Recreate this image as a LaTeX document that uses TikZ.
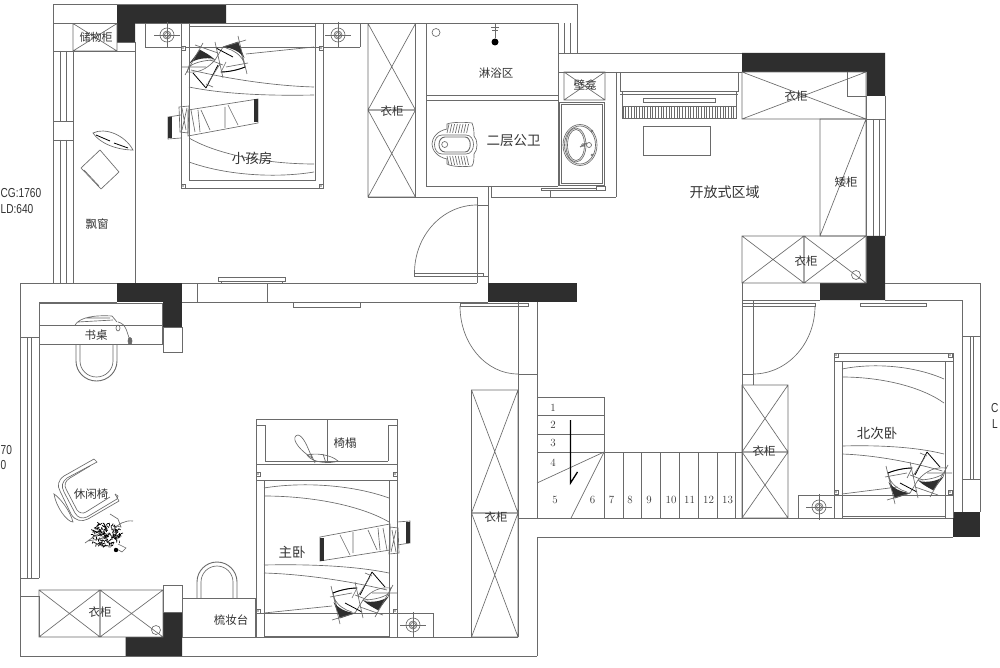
\documentclass[tikz,border=0pt]{standalone}
\usepackage{fontspec}
\setmainfont{Liberation Sans}
\newfontfamily\cjk{Noto Sans CJK SC}
\begin{document}
\definecolor{ln}{HTML}{6A6A6A}
\definecolor{blk}{HTML}{2E2E2E}
\definecolor{txt}{HTML}{333333}
\newcommand\bedCurves{%
  \draw[thn] (264,488) .. controls (300,482) and (350,484) .. (389,498);
  \draw[thn] (264,496) .. controls (310,496) and (360,505) .. (389,522);
  \draw[thn] (264,565) .. controls (310,564) and (355,566) .. (389,573);
  \draw[thn] (264,573) .. controls (300,574) and (345,580) .. (387,590);
  \draw[thn] (264,613) -- (332,606);
}
\newcommand\bedPillows{%
  \draw[thn] (333,593) .. controls (340,590) and (350,588) .. (357,588) -- (352,598) (333,593) -- (340,618) -- (355,613) -- (363,600) .. controls (372,590) and (380,587) .. (391,588) -- (388,597) -- (378,610) -- (363,600);
  \draw[black,line width=.9pt] (333,593) .. controls (340,590) and (350,588) .. (357,588);
  \fill[blk] (333.5,602) -- (340,618) -- (355,613) .. controls (345,612) and (338,608) .. (333.5,602);
  \fill[blk] (364,601) .. controls (372,603) and (382,601) .. (388,597) -- (378,610) .. controls (374,608) and (368,605) .. (364,601);
  \draw[thn] (363,600) .. controls (372,600) and (382,598) .. (388,594) (334,598) .. controls (338,606) and (345,610) .. (352,612);
  \draw[black,line width=.8pt] (360,595) -- (372,572) (372,572) -- (385,587) (345,603) -- (362,612);
  \draw[thn] (331,586) -- (340,624) (330,597) -- (352,593) (355,582) -- (363,618) (332,620) -- (355,613) (365,573) -- (372,576) (370,577) -- (358,596) (393,585) -- (375,617) (360,607) -- (383,615) (372,593) -- (397,593) (355,595) -- (368,600);
}
\newcommand\bedStrip{%
  \draw[thn] (320,537) -- (390,524) -- (390,550) -- (320,561) -- cycle;
  \fill[blk] (320,537.5) rectangle (324,560.5);
  \draw[thn] (397,522) -- (410,521) -- (410,543) -- (397,545);
  \fill[blk] (406,521.5) rectangle (410,543);
  \draw[thn] (390,527) -- (398,528) -- (399,553) -- (389,554) -- cycle (392,530) -- (396,552) (396,530) -- (391,552);
  \draw[thn] (340,535) -- (350,555) (353,532) -- (353,553) (368,530) -- (377,550) (378,528) -- (380,550) (383,528) -- (387,550);
}
\newcommand\xBox[4]{\draw[thn] (#1,#2) rectangle (#3,#4) (#1,#2) -- (#3,#4) (#1,#4) -- (#3,#2);}
\newcommand\lampMark[2]{%
  \draw[thn] (#1,#2) circle (7) (#1,#2) circle (4) (#1,#2) circle (2.5);
  \draw[thn] (#1-13,#2) -- (#1+13,#2) (#1,#2-13) -- (#1,#2+13);}
\newcommand\pegMark[2]{\draw[thn,fill=white] (#1-2,#2-2) rectangle (#1+2,#2+2);\fill[ln] (#1,#2) circle (0.9);}
\begin{tikzpicture}[x=1pt,y=-1pt,
  thn/.style={draw=ln,line width=0.65pt},
  wl/.style={draw=ln,line width=0.9pt},
  dark/.style={fill=blk,draw=none},
  lab/.style={text=txt,inner sep=0pt,font=\cjk\fontsize{11.5}{12}\selectfont},
  big/.style={text=txt,inner sep=0pt,font=\cjk\fontsize{13.5}{14}\selectfont},
  num/.style={text=txt,inner sep=0pt,font=\fontfamily{lmr}\fontsize{11}{12}\selectfont},
  dim/.style={text=txt,inner sep=0pt,font=\fontsize{13}{14}\selectfont,xscale=.78,anchor=west}]
\useasboundingbox (0,0) rectangle (1000,668);
\fill[white] (0,0) rectangle (1000,668);

% solid walls
\fill[dark] (117,4.5) -- (226,4.5) -- (226,23.5) -- (135,23.5) -- (135,42) -- (117,42) -- cycle;
\fill[dark] (117,283) rectangle (181.5,302);
\fill[dark] (163,302) rectangle (181.5,327);
\fill[dark] (488,283) rectangle (577,302);
\fill[dark] (742,53) -- (885,53) -- (885,96) -- (866.5,96) -- (866.5,72) -- (742,72) -- cycle;
\fill[dark] (866.5,236) -- (885,236) -- (885,300) -- (820,300) -- (820,283) -- (866.5,283) -- cycle;
\fill[dark] (952.5,512) rectangle (980,537);
\fill[dark] (163,612) -- (182,612) -- (182,656) -- (125.5,656) -- (125.5,637) -- (163,637) -- cycle;

% wall outlines upper part
\draw[wl] (117,4.5) -- (53.5,4.5) -- (53.5,283);
\draw[wl] (226,4.5) -- (577,4.5) -- (577,53);
\draw[wl] (53.5,23.5) -- (117,23.5) (53.5,51) -- (117,51) (117,42) -- (135,42) (117,51) -- (135,51);
\draw[wl] (135,23.5) -- (558,23.5);
\draw[wl] (135,42) -- (135,283);
\draw[thn] (60,51) -- (60,121) (66,51) -- (66,121) (60,140) -- (60,283) (66,140) -- (66,283);
\draw[wl] (73,51) -- (73,283);
\draw[thn] (53.5,121) rectangle (73,140);
\xBox{73}{23.5}{117}{51}
% window to right of shower
\draw[wl] (558,23.5) -- (558,53) (558,53) -- (742,53) (558,72) -- (742,72) (558,53) -- (558,186);
\draw[thn] (564,23.5) -- (564,53) (570,23.5) -- (570,53);
\draw[wl] (616,72) -- (616,197);
\draw[wl] (368,197) -- (477,197) (491,197) -- (616,197);
\draw[wl] (426,23.5) -- (426,186) -- (558,186);
\draw[wl] (426,95) -- (558,95) (426,100) -- (558,100);
\draw[wl] (491,186) -- (491,197) (550,190) -- (550,197);
\draw[thn] (541,188) rectangle (596,190.5);
\draw[thn] (596,186) rectangle (605,190.5);
% door to kid's room
\draw[wl] (477,197) -- (477,283) (488,186) -- (488,283);
\draw[thn] (477,205) -- (488,205);
\draw[thn] (414.5,273) rectangle (483,276);
\draw[thn] (483,276) -- (488,276);
\draw[thn] (414.5,273) arc (180:270:62.5 and 68);
% bottom line of upper wing
\draw[wl] (20,283) -- (117,283) (181.5,283) -- (477,283);
\draw[wl] (181.5,302) -- (488,302) (197,283) -- (197,302) (267,283) -- (267,302);
\draw[thn] (218,277) rectangle (285,281) (221,281) rectangle (282,283);
\draw[thn] (293,302) rectangle (360,307);
% wardrobes
\xBox{368}{23.5}{415.5}{110}
\xBox{368}{110}{415.5}{197}
\xBox{564}{72}{605}{100}
\draw[wl] (559,102) rectangle (604,185);
\draw[thn] (561,104) rectangle (602,183);
% NE block
\xBox{742}{72}{866}{119}
\draw[thn] (847,72) -- (847,96) -- (866,96);
\draw[wl] (885,96) -- (885,236) (866,96) -- (866,283);
\draw[thn] (866,119) -- (885,119) (873,119) -- (873,236) (879,119) -- (879,236);
\draw[thn] (820,119) rectangle (866,236) (866,119) -- (820,236);
\xBox{742}{236}{804}{283}
\xBox{804}{236}{866}{283}
\draw[thn] (856,275) circle (4.5);
\draw[wl] (742,283) -- (742,518);
\draw[wl] (742,300) -- (820,300) (885,300) -- (962,300) (885,283) -- (980,283) -- (980,512);
\draw[wl] (962,300) -- (962,512);
\draw[thn] (962,336) -- (980,336) (962,479) -- (980,479) (970,336) -- (970,479) (973,336) -- (973,479);
\draw[thn] (860,303) rectangle (926,306.5);
% door east
\draw[thn] (742,303) rectangle (815,306);
\draw[wl] (753,300) -- (753,385);
\draw[thn] (742,374) -- (753,374);
\draw[thn] (815,306) arc (0:90:62 and 68);
\xBox{742}{385}{788}{452}
\xBox{742}{452}{788}{518}
% piano
\draw[thn] (620,72) -- (620,91) -- (738,91) -- (738,72);
\draw[thn] (622,91) -- (622,118) -- (736,118) -- (736,91) (620,94) -- (738,94);
\draw[thn] (643,98) rectangle (715,102);
\draw[thn] (622,106) -- (736,106);
\foreach \k in {0,...,41} \draw[thn,line width=.55pt] (623+2.7*\k,106) -- (623+2.7*\k,118);
\draw[thn] (643,126) rectangle (710,155);
% stairs and central wall
\draw[wl] (518,302) -- (518,637) (537,302) -- (537,518);
\draw[thn] (460,306) rectangle (528,303.5);
\draw[thn] (518,374) -- (537,374);
\draw[thn] (460,306) arc (180:90:58 and 68);
\xBox{471.5}{390}{518}{513}
\xBox{471.5}{513}{518}{637}
\draw[thn] (537,397) -- (604,397) -- (604,518) (537,415) -- (604,415) (537,434) -- (604,434) (537,452) -- (742,452);
\draw[thn] (604,452) -- (537,483) (604,452) -- (571,518);
\foreach \sx in {623,641.5,660,679,698,717,735.5} \draw[thn] (\sx,452) -- (\sx,518);
\draw[black,line width=1.3pt] (570.5,420) -- (570.5,483) -- (577.5,472);
\draw[wl] (518,518) -- (952.5,518) (537,537) -- (952.5,537) (537,537) -- (537,656);
% master bedroom walls
\draw[wl] (20,283) -- (20,656) -- (537,656);
\draw[wl] (39,302) -- (117,302) (39,302) -- (39,578) (20,337) -- (39,337) (20,578) -- (39,578) (20,596) -- (39,596) (39,596) -- (39,637) (182,637) -- (518,637);
\draw[thn] (27,337) -- (27,578) (31,337) -- (31,578);
% desk
\draw[wl] (39,303) rectangle (162,344);
\draw[thn] (39,325) -- (162,325);
\draw[thn] (163,327) rectangle (182,352);
\draw[thn] (75,325) .. controls (80,317) and (95,315) .. (112,316) -- (117,322) (78,322) -- (113,320) (85,318) -- (110,318);
\draw[thn] (118,322) .. controls (127,324) and (127,334) .. (130,340);
\draw[thn] (118,328) ellipse (2 and 3);
\draw[thn,fill=ln] (130,341) ellipse (2 and 3.5);
% chair under desk
\draw[wl] (76,344) -- (76,361) arc (180:0:20.5 and 20) -- (117,344);
\draw[thn] (80,344) -- (80,361) arc (180:0:16.5 and 16) -- (113,344);
% wardrobe SW
\xBox{39}{590}{100}{637}
\xBox{100}{590}{163}{637}
\draw[thn] (156,630) circle (4.5);
\draw[thn] (163,585) rectangle (182,612);
% dresser
\draw[wl] (182,598) rectangle (255,637);
\draw[wl] (197,598) -- (197,582) arc (180:360:20 and 20) -- (237,598);
\draw[thn] (201,598) -- (201,582) arc (180:360:16 and 16) -- (233,598);
% armchair
\draw[thn] (94,459) -- (97,462) -- (67,478) .. controls (62,482) and (61,486) .. (64,492) -- (75,513) .. controls (78,518) and (82,519) .. (87,517) -- (117,499) -- (118,496) -- (115,494);
\draw[thn] (94,459) -- (64,476) .. controls (58,480) and (57,486) .. (60,491) -- (71,514) .. controls (75,521) and (82,522) .. (88,519) -- (119,501) -- (115,494);
\draw[thn] (90,466) -- (70,478) .. controls (65,481) and (64,485) .. (66,489) -- (77,510) .. controls (79,513) and (83,514) .. (86,512) -- (110,497);
\draw[thn] (54,494) .. controls (59,497) and (70,510) .. (73,522) .. controls (67,522) and (56,507) .. (54,494) -- cycle;
% plant
\pgfmathsetseed{11}
\foreach \i in {1,...,170} {
  \pgfmathsetmacro\aa{rnd*360}
  \pgfmathsetmacro\rr{sqrt(rnd)*15}
  \pgfmathsetmacro\bb{rnd*360}
  \draw[black,line width=.7pt] ({106+\rr*cos(\aa)},{535+\rr*sin(\aa)*.85}) -- ++({2.4*cos(\bb)},{2.4*sin(\bb)});
}
\draw[thn] (85,543) .. controls (92,538) and (96,535) .. (100,533) (133,521) .. controls (125,520) and (118,524) .. (113,530) (88,541) -- (104,538) (110,514) -- (118,519) -- (121,527) -- (116,526) (118,544) -- (126,548) -- (122,552) -- (115,548);
\fill[black] (116,550) circle (2.2);
% master bed
\draw[wl] (256,419) rectangle (397,464);
\draw[thn] (256,425) -- (265,425) -- (265,461) (397,425) -- (388,425) -- (388,461) (265,461) -- (388,461) (327,419) -- (327,461);
\draw[wl] (256,464) -- (256,637) (397,464) -- (397,637);
\draw[wl] (256,480) -- (397,480);
\draw[thn] (264,480) -- (264,637) (389,480) -- (389,637) (264,636) -- (389,636);
\draw[wl] (256,613) -- (433,613) -- (433,637);
\draw[thn] (298,435) .. controls (291,436) and (295,447) .. (312,458) .. controls (307,445) and (303,436) .. (298,435) -- cycle;
\draw[thn] (307,455) .. controls (315,453) and (330,454) .. (338,461) .. controls (330,464) and (312,463) .. (307,455) -- cycle (311,454) -- (315,463) (323,454) -- (326,463);
\bedCurves \bedPillows \bedStrip
\pegMark{258}{474} \pegMark{395}{474} \pegMark{258}{611} \pegMark{395}{611}
\lampMark{413}{625}
% kid's bed
\draw[wl] (181,23.5) -- (181,188) -- (323,188) -- (323,23.5);
\draw[thn] (189,23.5) -- (189,180) -- (315,180) -- (315,23.5) (189,26) -- (315,26);
\draw[wl] (145,47) -- (360,47);
\draw[thn] (145,23.5) -- (145,47) (360,23.5) -- (360,47);
\begin{scope}[shift={(578,660)},xscale=-1,yscale=-1]
\bedCurves \bedPillows \bedStrip
\end{scope}
\pegMark{183}{48} \pegMark{321}{48} \pegMark{183}{186} \pegMark{321}{186}
\lampMark{167}{35} \lampMark{338}{35}
% north bed
\draw[wl] (834,518) -- (834,353) -- (953,353) -- (953,518);
\draw[wl] (834,361) -- (953,361);
\draw[thn] (842,361) -- (842,518) (945,361) -- (945,518) (842,516) -- (945,516);
\draw[wl] (798,518) -- (798,495) -- (953,495);
\begin{scope}[shift={(842,-119)},xscale=.816,shift={(-264,0)}]
\bedCurves
\end{scope}
\begin{scope}[shift={(555,-120)}]
\bedPillows
\end{scope}
\pegMark{836}{355} \pegMark{950}{355} \pegMark{836}{492} \pegMark{950}{492}
\lampMark{819}{507}
% window cushions
\draw[thn] (93,133) .. controls (105,127) and (125,135) .. (133,150) .. controls (118,150) and (100,144) .. (93,133) -- cycle;
\draw[black,line width=.8pt] (96,135) -- (110,141) (114,143) -- (128,148);
\draw[thn] (100,150) -- (119,172) -- (101,189) -- (81,168) -- cycle;
\draw[thn] (84,170) -- (99,186);
% shower
\draw[thn] (436,32.5) circle (4);
\fill[black] (495,42) circle (3.5);
\draw[thn] (495,24) -- (495,38) (491,27) -- (499,27) (492,30) -- (498,30);
% squat toilet
\draw[thn] (447,129) -- (447,124) .. controls (452,122) and (465,122) .. (472,123) .. controls (474,128) and (474,132) .. (474,136) .. controls (478,140) and (478,150) .. (474,154) .. controls (474,158) and (474,163) .. (472,166) .. controls (465,167) and (452,167) .. (447,164) -- (447,159) .. controls (437,157) and (432,150) .. (432,144) .. controls (432,138) and (437,131) .. (447,129) -- cycle;
\draw[thn] (442,135) -- (466,135) .. controls (476,135) and (476,154) .. (466,154) -- (442,154) .. controls (432,154) and (432,135) .. (442,135) -- cycle;
\draw[wl] (445,137) -- (465,137) .. controls (472,137) and (472,152) .. (465,152) -- (445,152) .. controls (437,152) and (437,137) .. (445,137) -- cycle;
\draw[thn] (444.7,144.5) circle (3);
\foreach \r in {0,...,7} {
  \draw[thn] (447+2.8*\r,133) -- (449+2.8*\r,124);
  \draw[thn] (447+2.8*\r,156) -- (449+2.8*\r,165);
}
% wash basin
\draw[thn] (580,145) ellipse (17 and 20.5) (580,145) ellipse (15.5 and 19);
\draw[thn] (576,145) ellipse (10 and 17) (576,145) ellipse (8.5 and 15.5);
\draw[thn] (589,145) circle (2.5) (583,145) circle (1.5) (592,131) circle (1) (592,155) circle (1);
\draw[ln,line width=1pt] (580,147) -- (587,143);

% labels
\node[lab,font=\cjk\fontsize{11}{12}\selectfont] (t01) at (96,37) {储物柜};
\node[big] (t02) at (252,158) {小孩房};
\node[lab] (t03) at (97,224.5) {飘窗};
\node[lab] (t04) at (392,111) {衣柜};
\node[lab] (t05) at (496,73) {淋浴区};
\node[big] (t06) at (513.5,141) {二层公卫};
\node[lab] (t07) at (585,85.5) {壁龛};
\node[lab] (t08) at (796,96) {衣柜};
\node[lab] (t09) at (846,182) {矮柜};
\node[lab] (t10) at (806,261) {衣柜};
\node[big,font=\cjk\fontsize{14}{15}\selectfont] (t11) at (724.5,192) {开放式区域};
\node[lab] (t12) at (96,335) {书桌};
\node[lab] (t13) at (91,494) {休闲椅};
\node[lab] (t14) at (100,612) {衣柜};
\node[lab] (t15) at (231,620) {梳妆台};
\node[lab] (t16) at (345,443) {椅榻};
\node[big] (t17) at (292,552) {主卧};
\node[lab] (t18) at (496,517) {衣柜};
\node[lab] (t19) at (764,451) {衣柜};
\node[big] (t20) at (877,433) {北次卧};
\node[num] (s01) at (553,408) {1};
\node[num] (s02) at (553,425) {2};
\node[num] (s03) at (553,443) {3};
\node[num] (s04) at (553,463) {4};
\node[num] (s05) at (555,500) {5};
\node[num] (s06) at (592.5,500) {6};
\node[num] (s07) at (611.5,500) {7};
\node[num] (s08) at (630,500) {8};
\node[num] (s09) at (649,500) {9};
\node[num] (s10) at (671,500) {10};
\node[num] (s11) at (689.5,500) {11};
\node[num] (s12) at (708.5,500) {12};
\node[num] (s13) at (727.5,500) {13};
\node[dim] (d1) at (0.5,193) {CG:1760};
\node[dim] (d2) at (0.5,209) {LD:640};
\node[dim] (d3) at (0.5,450) {70};
\node[dim] (d4) at (0.5,465) {0};
\node[dim] (d5) at (991,408) {C};
\node[dim] (d6) at (992,424) {L};
\end{tikzpicture}
\end{document}
